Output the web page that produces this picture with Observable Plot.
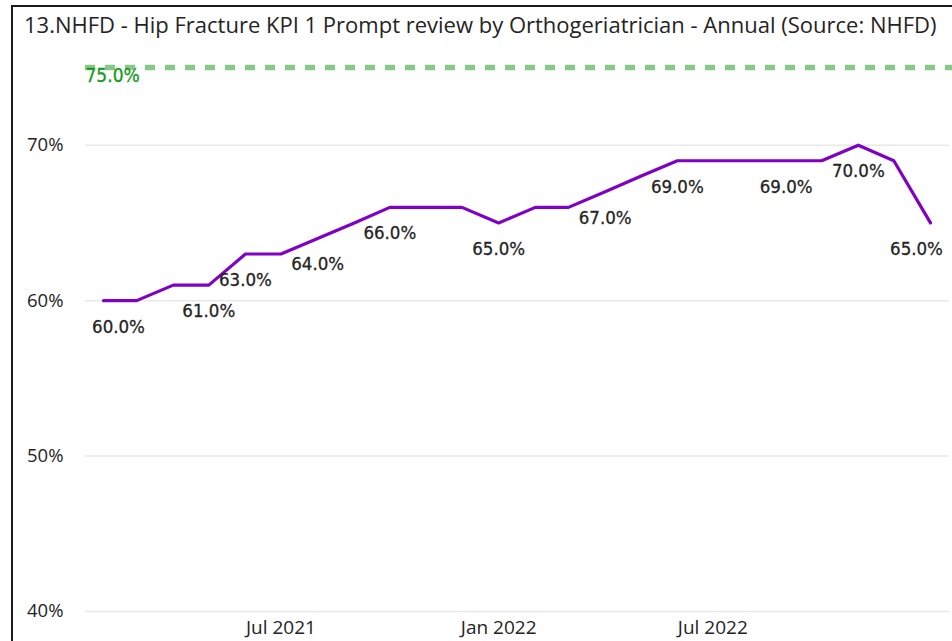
<!DOCTYPE html>
<html>
<head>
<meta charset="utf-8">
<script src="https://cdn.jsdelivr.net/npm/d3@7"></script>
<script src="https://cdn.jsdelivr.net/npm/@observablehq/plot@0.6"></script>
<style>
  html, body { margin: 0; padding: 0; background: #fff; overflow: hidden; width: 952px; height: 641px; }
  #wrap { position: relative; width: 952px; height: 641px; overflow: hidden; }
  #frame { position: absolute; left: 11px; top: 5px; width: 2000px; height: 2000px;
           border-left: 2px solid #1b1b1b; border-top: 2px solid #1b1b1b; box-sizing: border-box; }
  #title { position: absolute; left: 24px; top: 13px; font-family: "Open Sans", sans-serif; font-size: 22px;
           line-height: 1; color: #252423; white-space: nowrap; z-index: 2; }
  #chart { position: absolute; left: 0; top: 0; z-index: 1; }
</style>
</head>
<body>
<div id="wrap">
  <div id="frame"></div>
  <div id="chart"></div>
  <div id="title">13.NHFD - Hip Fracture KPI 1 Prompt review by Orthogeriatrician - Annual (Source: NHFD)</div>
</div>
<script>
const months = ["2021-02","2021-03","2021-04","2021-05","2021-06","2021-07","2021-08","2021-09","2021-10","2021-11","2021-12","2022-01",
                "2022-02","2022-03","2022-04","2022-05","2022-06","2022-07","2022-08","2022-09","2022-10","2022-11","2022-12","2023-01"];
const values = [60,60,61,61,63,63,64,65,66,66,66,65,66,66,67,68,69,69,69,69,69,70,69,65];
const labelledMonths = ["2021-02","2021-05","2021-06","2021-08","2021-10","2022-01","2022-04","2022-06","2022-09","2022-11","2023-01"];
const target = 75;
const yTicks = [40, 50, 60, 70];
const xTicks = ["2021-07","2022-01","2022-07"];

const parse = d3.utcParse("%Y-%m");
const data = months.map((m, i) => ({date: parse(m), value: values[i], month: m}));
const labels = data.filter(d => labelledMonths.includes(d.month));
const first = months[0], last = months[months.length - 1];
const midLabels = labels.filter(d => d.month !== first && d.month !== last);
const firstLabel = labels.filter(d => d.month === first);
const lastLabel = labels.filter(d => d.month === last);

const textColor = "#252423";
const labelFont = "'DejaVu Sans Condensed', 'DejaVu Sans', sans-serif";
const fmt = d => d.value.toFixed(1) + "%";
const labelOpts = (dx) => ({x: "date", y: "value", dy: 26, dx, text: fmt, fill: textColor,
  stroke: textColor, strokeWidth: 0.3, paintOrder: "fill",
  fontSize: 18.5, fontFamily: labelFont, fontStretch: "condensed"});

const chart = Plot.plot({
  width: 952,
  height: 641,
  marginTop: 67,
  marginBottom: 30,
  marginLeft: 103,
  marginRight: 22,
  style: {fontFamily: "'Open Sans', sans-serif", color: textColor, background: "transparent", overflow: "visible"},
  x: {type: "utc", domain: [parse(first), parse(last)]},
  y: {domain: [40, 75]},
  marks: [
    Plot.ruleY(yTicks, {stroke: "#e8e8e8", strokeWidth: 1.5, insetLeft: -18, insetRight: -19}),
    Plot.ruleY([target], {stroke: "#86c986", strokeWidth: 5.5, strokeDasharray: "10,10", insetLeft: -18, insetRight: -24}),
    Plot.text([target], {y: d => d, frameAnchor: "left", dx: -18, dy: 8, text: d => d.toFixed(1) + "%",
      textAnchor: "start", fill: "#169a1e", stroke: "#169a1e", strokeWidth: 0.3, paintOrder: "fill",
      fontSize: 19, fontFamily: labelFont, fontStretch: "condensed"}),
    Plot.axisY({ticks: yTicks, tickFormat: d => d + "%", tickSize: 0, tickPadding: 40, fontSize: 18.5, label: null}),
    Plot.axisX({ticks: xTicks.map(parse), tickFormat: d3.utcFormat("%b %Y"), tickSize: 0, tickPadding: 9, fontSize: 19, label: null}),
    Plot.line(data, {x: "date", y: "value", stroke: "#8000c4", strokeWidth: 3.2}),
    Plot.text(midLabels, labelOpts(0)),
    Plot.text(firstLabel, labelOpts(15)),
    Plot.text(lastLabel, labelOpts(-14))
  ]
});
document.getElementById("chart").appendChild(chart);
</script>
</body>
</html>
